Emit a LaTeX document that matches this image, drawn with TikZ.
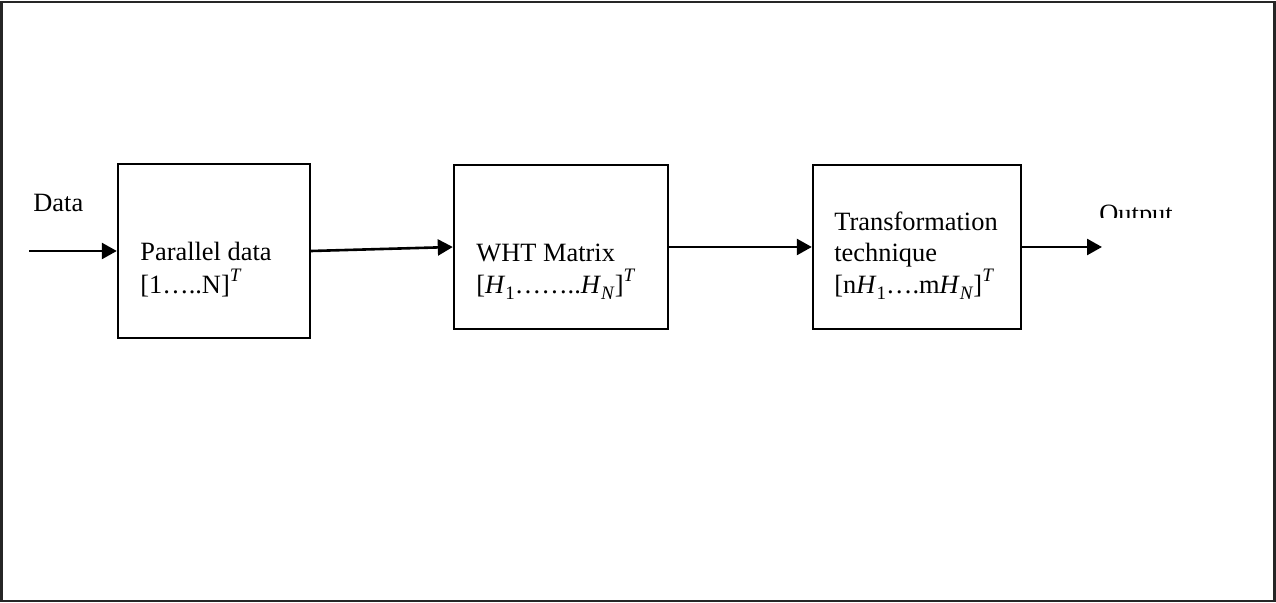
\documentclass[tikz,border=0pt]{standalone}
\usepackage{fontspec}
\setmainfont{Liberation Serif}
\usetikzlibrary{arrows.meta}
% italic symbol with a lowered upright index, and an italic raised T
\newcommand\Hidx[1]{\textit{H}\raisebox{-0.45ex}{\fontsize{9.5}{9.5}\selectfont #1}}
\newcommand\supT{\raisebox{1.0ex}{\fontsize{9.5}{9.5}\selectfont\textit{T}}}
\tikzset{
  blockbox/.style={draw=black, line width=1.2pt, inner sep=0pt},
  label text/.style={inner sep=0pt, anchor=base west, font=\fontsize{13.2}{16}\selectfont},
  flow/.style={line width=1.3pt, -{Triangle[length=7.5pt,width=8pt]}},
}
\begin{document}
\begin{tikzpicture}[x=0.5pt, y=-0.5pt]
  \useasboundingbox (0,0) rectangle (1276,603);
  \fill[white] (0,0) rectangle (1276,603);
  % outer frame
  \draw[black!85, line width=1.1pt] (1.5,2) rectangle (1274.5,601);

  % blocks
  \node[blockbox, minimum width=96pt, minimum height=87pt] (b1) at (214,251) {};
  \node[blockbox, minimum width=107pt, minimum height=82pt] (b2) at (561,247) {};
  \node[blockbox, minimum width=104pt, minimum height=82pt] (b3) at (917,247) {};

  % block texts
  \node[label text] (t1a) at (140,261) {Parallel data};
  \node[label text] (t1b) at (140,294) {[1…..N]\supT};
  \node[label text] (t2a) at (476,262) {WHT Matrix};
  \node[label text] (t2b) at (476,294) {[\Hidx{1}……..\Hidx{\textit{N}}]\supT};
  \node[label text] (t3a) at (834,231) {Transformation};
  \node[label text] (t3b) at (834,262) {technique};
  \node[label text] (t3c) at (834,294) {[n\Hidx{1}….m\Hidx{\textit{N}}]\supT};

  % input and output labels
  \node[label text] (din) at (33,212) {Data};
  \begin{scope}
    \clip (1090,190) rectangle (1190,218);
    \node[label text] (dout) at (1099,223) {Output};
  \end{scope}

  % connectors
  \coordinate (src) at (29,251);
  \coordinate (snk) at (1102,247);
  \draw[flow] (src) -- (b1.west);
  \draw[flow] (b1.east) -- (b2.west);
  \draw[flow] (b2.east) -- (b3.west);
  \draw[flow] (b3.east) -- (snk);
\end{tikzpicture}
\end{document}
